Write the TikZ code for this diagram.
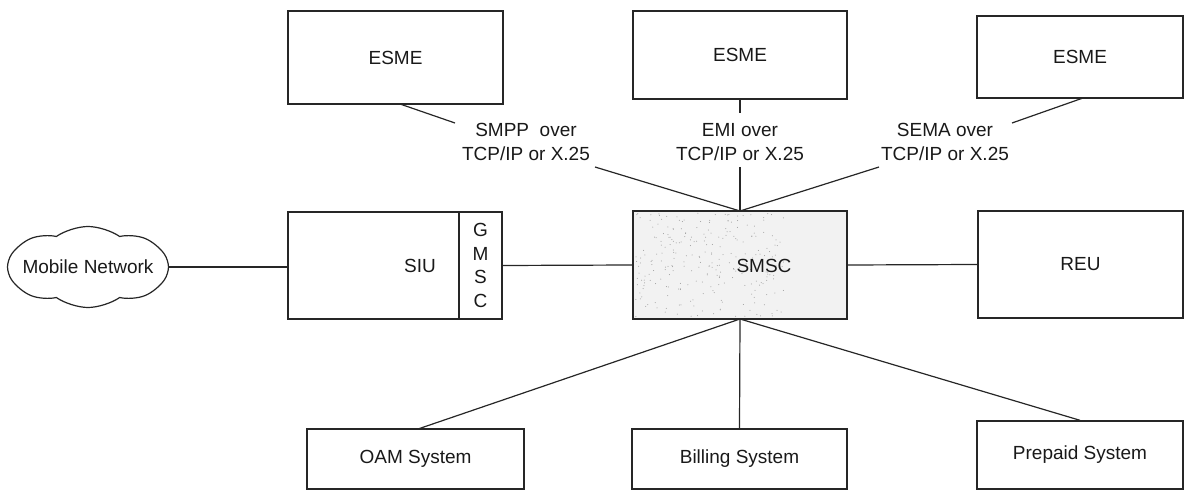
\documentclass[tikz,border=0pt]{standalone}
\usepackage{fontspec}
\setmainfont{Liberation Sans}
\usetikzlibrary{shapes.symbols}
\begin{document}
\begin{tikzpicture}[x=1bp,y=-1bp,
  box/.style={draw=black!85, line width=1.4bp, rectangle, inner sep=0pt,
    font=\fontsize{19bp}{23.7bp}\selectfont, text=black!90},
  conn/.style={draw=black!85, line width=1.2bp},
  txt/.style={font=\fontsize{19bp}{23.7bp}\selectfont, inner sep=0pt, align=center, text=black!90}]
\useasboundingbox (0,0) rectangle (1185,492);

% top ESMEs
\node[box, minimum width=215bp, minimum height=93bp] (esmeL) at (395.5,57.5) {ESME};
\node[box, minimum width=214bp, minimum height=88bp] (esmeM) at (740,55) {ESME};
\node[box, minimum width=206bp, minimum height=82bp] (esmeR) at (1080,57) {ESME};

% protocol labels
\node[txt] (lblL) at (526,142) {SMPP\ \ over\\TCP/IP or X.25};
\node[txt] (lblM) at (740,142) {EMI over\\TCP/IP or X.25};
\node[txt] (lblR) at (945,142) {SEMA over\\TCP/IP or X.25};

% middle row
\node[cloud, draw=black!85, line width=1.2bp, cloud puffs=8, cloud puff arc=70, aspect=2,
      minimum width=161bp, minimum height=81bp, inner sep=0pt] (cloud) at (88,267) {};
\node[txt] (cloudt) at (88,267) {Mobile Network};
\node[box, minimum width=171bp, minimum height=107bp] (siu) at (373.5,265.5) {};
\node[txt] (siut) at (420,266) {SIU};
\node[box, minimum width=43bp, minimum height=107bp, align=center] (gmsc) at (480.5,265.5) {G\\M\\S\\C};
\node[box, fill=black!5, minimum width=214bp, minimum height=108bp] (smsc) at (740,265) {};
\begin{scope}
  \clip (633,211) rectangle (847,319);
  \pgfmathsetseed{11}
  \foreach \i in {1,...,260} {
    \fill[black!40] ({635+150*rnd},{213+104*rnd}) circle (0.5bp);
  }
\end{scope}
\node[txt] (smsct) at (764,266) {SMSC};
\node[box, minimum width=205bp, minimum height=107bp] (reu) at (1080.5,264.5) {REU};

% bottom row
\node[box, minimum width=217bp, minimum height=60bp] (oam) at (415.5,459) {OAM System};
\node[box, minimum width=215bp, minimum height=60bp] (bill) at (739.5,459) {Billing System};
\node[box, minimum width=206bp, minimum height=68bp] (pre) at (1080,455) {Prepaid System};

% connector points
\coordinate (hub) at (740,211);
\coordinate (hubS) at (740,319);
\coordinate (eL) at (400,104);
\coordinate (lL1) at (455,123);
\coordinate (lL2) at (595,167);
\coordinate (lM1) at (740,113);
\coordinate (lM2) at (740,167);
\coordinate (eR) at (1083,98);
\coordinate (lR1) at (1012,123);
\coordinate (lR2) at (879,167);
\coordinate (oamT) at (418,429);

% connectors
\draw[conn] (eL) -- (lL1);
\draw[conn] (lL2) -- (hub);
\draw[conn] (esmeM.south) -- (lM1);
\draw[conn] (lM2) -- (hub);
\draw[conn] (eR) -- (lR1);
\draw[conn] (lR2) -- (hub);
\draw[conn] (cloud.east) -- (cloud.east -| siu.west);
\draw[conn] (gmsc.east) -- (smsc.west);
\draw[conn] (smsc.east) -- (reu.west);
\draw[conn] (hubS) -- (oamT);
\draw[conn] (hubS) -- (bill.north);
\draw[conn] (hubS) -- (pre.north);
\end{tikzpicture}
\end{document}
